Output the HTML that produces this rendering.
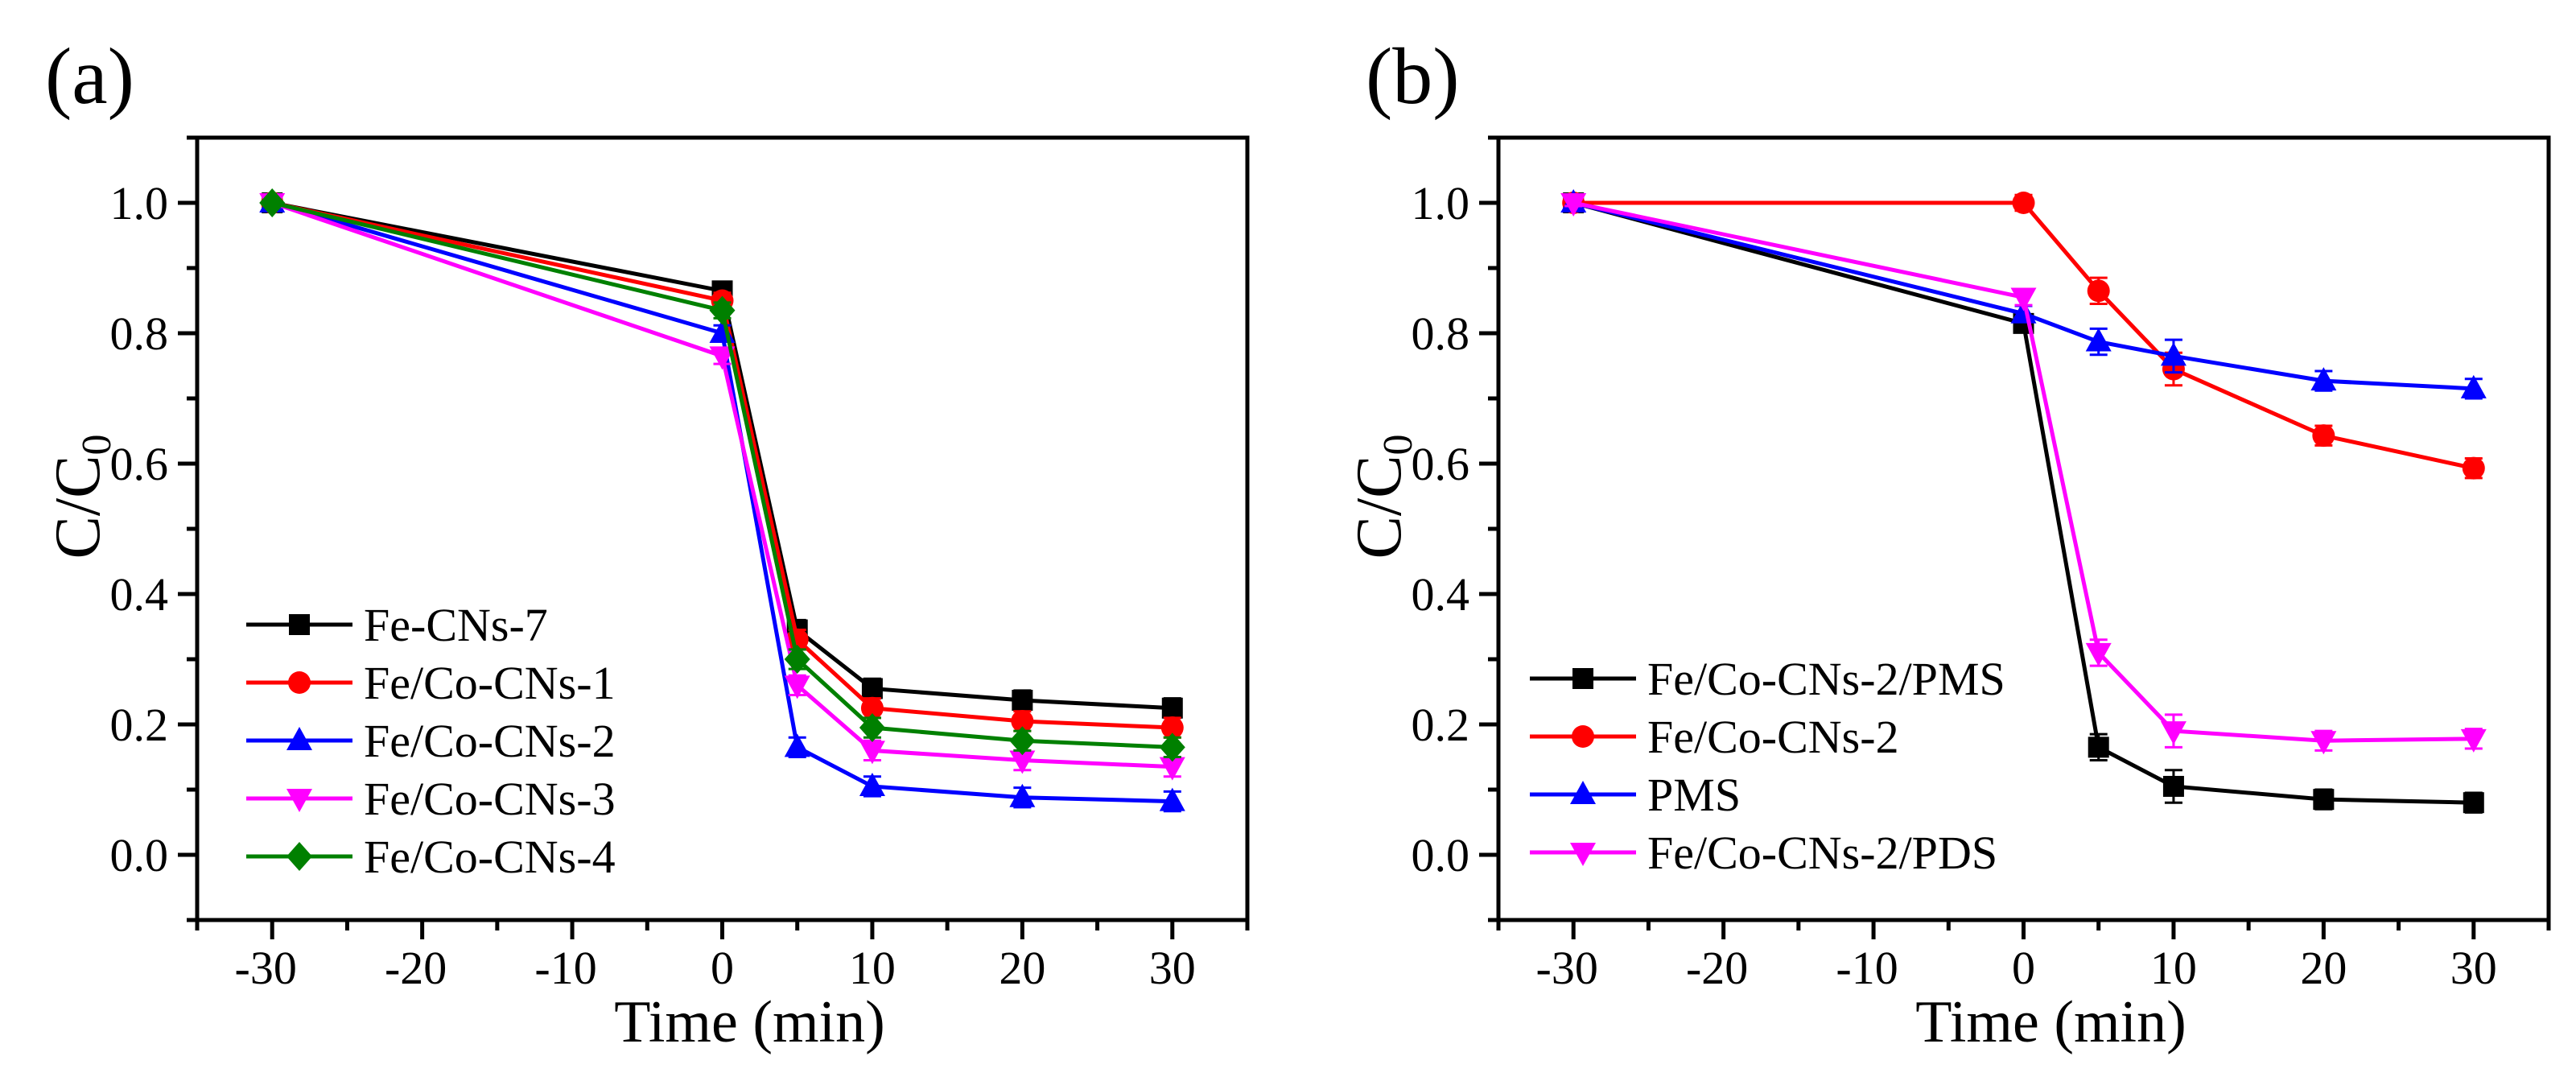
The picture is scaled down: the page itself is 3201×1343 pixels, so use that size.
<!DOCTYPE html>
<html><head><meta charset="utf-8"><style>
html,body{margin:0;padding:0;background:#fff;}
svg{display:block;font-family:"Liberation Serif",serif;}
</style></head><body>
<svg id="fig" width="3201" height="1343" viewBox="0 0 3201 1343" xmlns="http://www.w3.org/2000/svg"></svg>
<script>
const times = [-30, 0, 5, 10, 20, 30];
const xTicks = [-30, -20, -10, 0, 10, 20, 30];
const yTicks = [0.0, 0.2, 0.4, 0.6, 0.8, 1.0];
const yTickLabels = ["0.0", "0.2", "0.4", "0.6", "0.8", "1.0"];

const aNames = ["Fe-CNs-7", "Fe/Co-CNs-1", "Fe/Co-CNs-2", "Fe/Co-CNs-3", "Fe/Co-CNs-4"];
const aFe7 = [1.0, 0.865, 0.345, 0.255, 0.237, 0.225];
const aFeCo1 = [1.0, 0.85, 0.33, 0.225, 0.205, 0.195];
const aFeCo2 = [1.0, 0.80, 0.165, 0.105, 0.088, 0.082];
const aFeCo3 = [1.0, 0.765, 0.26, 0.16, 0.145, 0.135];
const aFeCo4 = [1.0, 0.835, 0.30, 0.195, 0.175, 0.165];
const aErr = [0.005, 0.012, 0.015, 0.015, 0.015, 0.015];

const bNames = ["Fe/Co-CNs-2/PMS", "Fe/Co-CNs-2", "PMS", "Fe/Co-CNs-2/PDS"];
const bPmsCat = [1.0, 0.815, 0.165, 0.105, 0.085, 0.08];
const bCat = [1.0, 1.0, 0.865, 0.745, 0.643, 0.593];
const bPms = [1.0, 0.83, 0.787, 0.765, 0.727, 0.715];
const bPds = [1.0, 0.855, 0.31, 0.19, 0.175, 0.178];
const bErr = [0.005, 0.012, 0.02, 0.025, 0.015, 0.015];

const NS = "http://www.w3.org/2000/svg";
const svg = document.getElementById('fig');
function mk(tag, attrs, parent) {
  const e = document.createElementNS(NS, tag);
  for (const k in attrs) e.setAttribute(k, attrs[k]);
  (parent || svg).appendChild(e);
  return e;
}
function marker(g, type, cx, cy, color) {
  const s = 13;
  let m;
  if (type === 'square') m = mk('rect', {x: cx - s, y: cy - s, width: 2 * s, height: 2 * s, fill: color}, g);
  else if (type === 'circle') m = mk('circle', {cx: cx, cy: cy, r: s + 1, fill: color}, g);
  else if (type === 'up') m = mk('polygon', {points: `${cx},${cy - s - 4} ${cx - s - 3},${cy + s - 1} ${cx + s + 3},${cy + s - 1}`, fill: color}, g);
  else if (type === 'down') m = mk('polygon', {points: `${cx},${cy + s + 4} ${cx - s - 3},${cy - s + 1} ${cx + s + 3},${cy - s + 1}`, fill: color}, g);
  else m = mk('polygon', {points: `${cx},${cy - s - 5} ${cx + s + 3},${cy} ${cx},${cy + s + 5} ${cx - s - 3},${cy}`, fill: color}, g);
  
  
}

function panel(opt) {
  const L = opt.left, R = opt.left + 1305, T = 171, B = 1143;
  const xS = v => L + (v + 35) / 70 * (R - L);
  const yS = v => 1062 - v * 810;
  const g = mk('g', {});
  
  
  const frame = mk('rect', {x: L, y: T, width: R - L, height: B - T, fill: 'none', stroke: '#000', 'stroke-width': 5}, g);
  
  
  for (let v = -0.1; v <= 1.1001; v += 0.1) {
    const major = Math.abs(Math.round(v * 10) % 2) === 0;
    const t = mk('line', {x1: L - (major ? 24 : 13), x2: L, y1: yS(v), y2: yS(v), stroke: '#000', 'stroke-width': 5}, g);
    
    
  }
  yTicks.forEach((v, i) => {
    const t = mk('text', {x: L - 36, y: yS(v) + 20, 'text-anchor': 'end', 'font-size': 58, fill: '#000'}, g);
    t.textContent = yTickLabels[i];
    
    
  });
  for (let v = -35; v <= 35; v += 5) {
    const major = v % 10 === 0;
    const t = mk('line', {x1: xS(v), x2: xS(v), y1: B, y2: B + (major ? 24 : 13), stroke: '#000', 'stroke-width': 5}, g);
    
    
  }
  xTicks.forEach(v => {
    const t = mk('text', {x: xS(v) - (v < 0 ? 8 : 0), y: 1222, 'text-anchor': 'middle', 'font-size': 58, fill: '#000'}, g);
    t.textContent = String(v);
    
    
  });
  const xt = mk('text', {x: (L + R) / 2 + 34, y: 1294, 'text-anchor': 'middle', 'font-size': 74, fill: '#000'}, g);
  xt.textContent = 'Time (min)';
  
  
  const yt = mk('text', {x: 0, y: 0, 'text-anchor': 'middle', 'font-size': 80, fill: '#000', transform: `translate(${L - 122},${617}) rotate(-90)`}, g);
  yt.innerHTML = 'C/C<tspan font-size="52" dy="14">0</tspan>';
  
  
  const pl = mk('text', {x: opt.labelX, y: 128, 'font-size': 100, fill: '#000'}, g);
  pl.textContent = opt.label;
  
  

  opt.series.forEach((s, si) => {
    const sg = mk('g', {}, g);
    
    
    const pts = times.map((t, i) => `${xS(t)},${yS(s.values[i])}`).join(' ');
    const ln = mk('polyline', {points: pts, fill: 'none', stroke: s.color, 'stroke-width': 5}, sg);
    
    
    times.forEach((t, i) => {
      const e = opt.err[i];
      const x = xS(t), y1 = yS(s.values[i] + e), y2 = yS(s.values[i] - e);
      const eb = mk('path', {d: `M${x},${y1}V${y2}M${x - 11},${y1}H${x + 11}M${x - 11},${y2}H${x + 11}`, stroke: s.color, 'stroke-width': 3, fill: 'none'}, sg);
      
      
      marker(sg, s.marker, x, yS(s.values[i]), s.color);
    });
    const ly = opt.legY + si * 72;
    const lg = mk('g', {}, g);
    
    
    mk('line', {x1: opt.legX, x2: opt.legX + 132, y1: ly, y2: ly, stroke: s.color, 'stroke-width': 5}, lg);
    marker(lg, s.marker, opt.legX + 66, ly, s.color);
    const lt = mk('text', {x: opt.legX + 146, y: ly + 20, 'font-size': 58, fill: '#000'}, lg);
    lt.textContent = s.name;
  });
}

panel({id: 'panel-a', left: 245, label: '(a)', labelX: 56, legX: 306, legY: 776, err: aErr, series: [
  {name: aNames[0], values: aFe7, color: '#000000', marker: 'square'},
  {name: aNames[1], values: aFeCo1, color: '#ff0000', marker: 'circle'},
  {name: aNames[2], values: aFeCo2, color: '#0000ff', marker: 'up'},
  {name: aNames[3], values: aFeCo3, color: '#ff00ff', marker: 'down'},
  {name: aNames[4], values: aFeCo4, color: '#008000', marker: 'diamond'}
]});
panel({id: 'panel-b', left: 1862, label: '(b)', labelX: 1697, legX: 1901, legY: 843, err: bErr, series: [
  {name: bNames[0], values: bPmsCat, color: '#000000', marker: 'square'},
  {name: bNames[1], values: bCat, color: '#ff0000', marker: 'circle'},
  {name: bNames[2], values: bPms, color: '#0000ff', marker: 'up'},
  {name: bNames[3], values: bPds, color: '#ff00ff', marker: 'down'}
]});
</script>
</body></html>
